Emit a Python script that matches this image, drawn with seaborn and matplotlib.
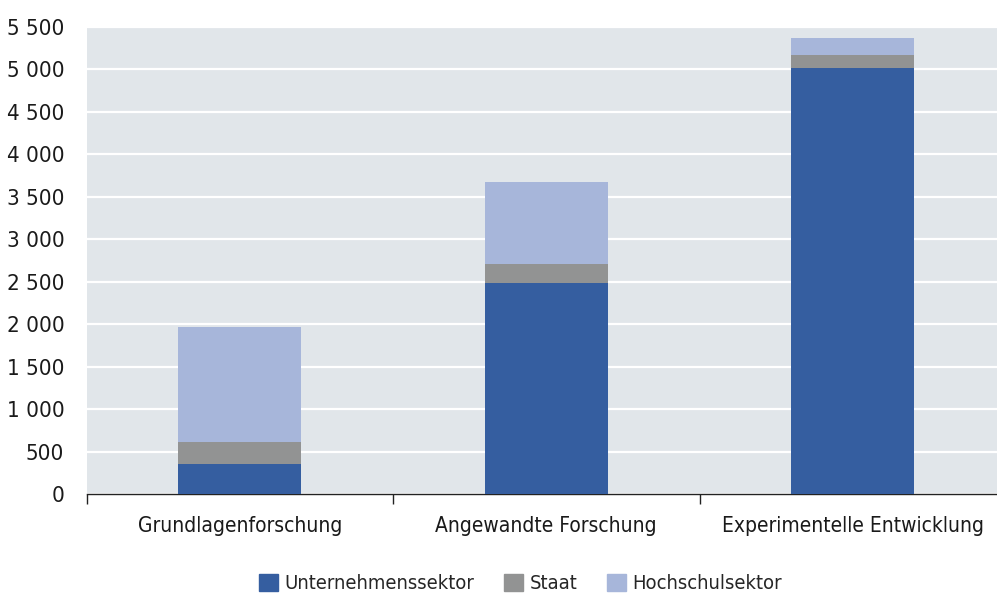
import numpy as np
import pandas as pd
import matplotlib
matplotlib.use("Agg")
import matplotlib.pyplot as plt
import matplotlib.patches as mpatches
from matplotlib.ticker import FixedLocator, FuncFormatter
import seaborn as sns

# ── data ──
categories = ["Grundlagenforschung", "Angewandte Forschung", "Experimentelle Entwicklung"]
unternehmen = [357, 2479, 5015]
staat = [258, 231, 154]
hochschule = [1350, 960, 207]
series_names = ["Unternehmenssektor", "Staat", "Hochschulsektor"]

COLORS = {"Unternehmenssektor": "#355ea0", "Staat": "#929393", "Hochschulsektor": "#a7b6da"}
BG = "#e1e6ea"

sns.set_theme(style="white")
plt.rcParams["font.family"] = ["DejaVu Sans"]
plt.rcParams["font.stretch"] = "condensed"

df = pd.DataFrame({"Kategorie": categories,
                   "Unternehmenssektor": unternehmen,
                   "Staat": staat,
                   "Hochschulsektor": hochschule})
# cumulative heights for stacking (draw tallest first)
df["c1"] = df["Unternehmenssektor"]
df["c2"] = df["c1"] + df["Staat"]
df["c3"] = df["c2"] + df["Hochschulsektor"]

fig = plt.figure(figsize=(9.97, 5.93), dpi=100)
# axes runs slightly past the right edge of the picture, like the original
ax = fig.add_axes([0.0868, 0.167, 0.9223, 0.7875])
ax.set_facecolor(BG)

for col, name in [("c3", "Hochschulsektor"), ("c2", "Staat"), ("c1", "Unternehmenssektor")]:
    sns.barplot(data=df, x="Kategorie", y=col, color=COLORS[name], ax=ax,
                width=0.401, saturation=1, linewidth=0, zorder=3)

ax.set_ylim(0, 5500)
ax.set_xlim(-0.5, 2.5)
ax.set_yticks(np.arange(0, 5501, 500))
ax.yaxis.set_major_formatter(FuncFormatter(lambda v, p: f"{int(v):,}".replace(",", " ")))
ax.grid(axis="y", color="white", linewidth=1.6, zorder=1)
ax.set_axisbelow(True)
ax.set_xlabel("")
ax.set_ylabel("")

for s in ["left", "right", "top"]:
    ax.spines[s].set_visible(False)
ax.spines["bottom"].set_color("#222222")
ax.spines["bottom"].set_linewidth(1.0)

ax.tick_params(axis="y", length=0, pad=16, labelsize=16, labelcolor="#1a1a1a")
ax.tick_params(axis="x", which="major", length=0, pad=16, labelsize=15, labelcolor="#1a1a1a")
ax.xaxis.set_minor_locator(FixedLocator([-0.5, 0.5, 1.5, 2.5]))
ax.tick_params(axis="x", which="minor", bottom=True, length=7, width=1.0,
               color="#222222", direction="out")

handles = [mpatches.Patch(color=COLORS[n], label=n) for n in series_names]
fig.legend(handles=handles, loc="center", bbox_to_anchor=(0.522, 0.016), ncol=3,
           frameon=False, fontsize=14.5, handlelength=0.95, handleheight=0.95,
           handletextpad=0.3, columnspacing=1.5, borderaxespad=0)

fig.savefig("out.png", dpi=100)
